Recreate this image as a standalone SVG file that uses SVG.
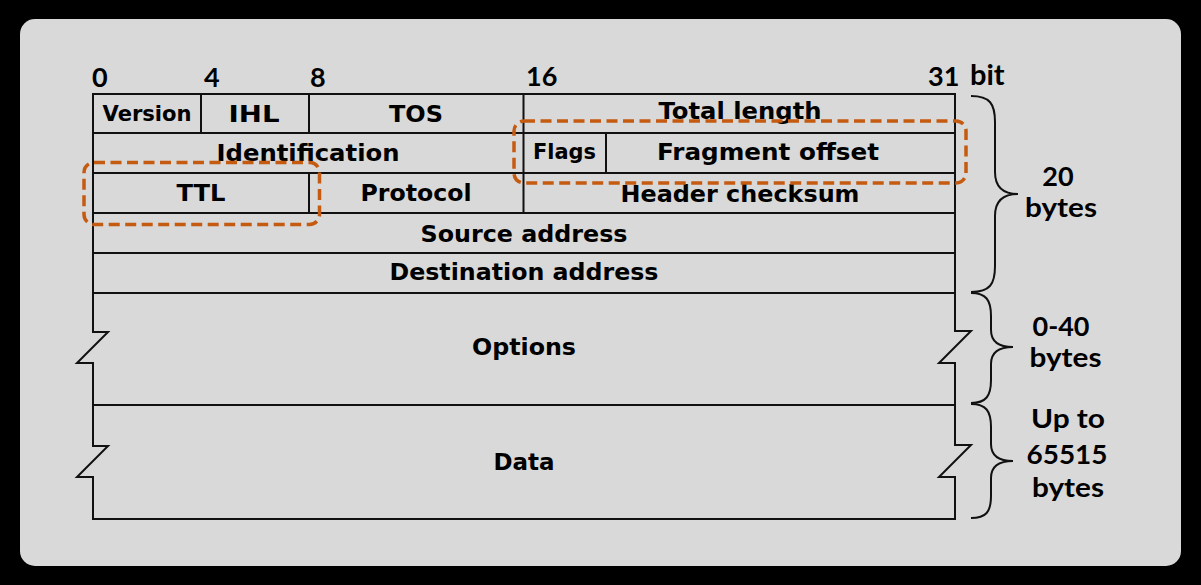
<svg xmlns="http://www.w3.org/2000/svg" width="1201" height="585" viewBox="0 0 1201 585">
  <defs>
    <style>
      .grid { fill: none; stroke: #111; stroke-width: 2; stroke-linejoin: miter; }
      .brace { fill: none; stroke: #111; stroke-width: 2; }
      .hl { fill: none; stroke: #C55A11; stroke-width: 3.5; stroke-dasharray: 11 5.5; }
      .f { font-family: "DejaVu Sans", Verdana, sans-serif; font-weight: bold; font-size: 23px; fill: #000; text-anchor: middle; }
      .fs { font-size: 20.5px; }
      .bit { font-family: Lato, "Liberation Sans", sans-serif; font-weight: bold; font-size: 27px; fill: #000; }
      .side { font-family: Lato, "Liberation Sans", sans-serif; font-weight: bold; font-size: 27px; fill: #000; text-anchor: middle; }
    </style>
  </defs>

  <!-- page background and panel -->
  <rect x="0" y="0" width="1201" height="585" fill="#000"/>
  <rect x="20" y="19" width="1161" height="547" rx="15" fill="#d9d9d9"/>

  <!-- bit position scale -->
  <g id="bit-scale">
    <text class="bit" x="92" y="87">0</text>
    <text class="bit" x="204" y="87">4</text>
    <text class="bit" x="310" y="87">8</text>
    <text class="bit" x="526" y="86">16</text>
    <text class="bit" x="928" y="86">31</text>
    <text class="bit" x="970" y="85" style="font-size:29px">bit</text>
  </g>

  <!-- header grid -->
  <g id="connectors">
    <!-- outline with torn edges for the variable-length parts -->
    <path class="grid" d="M93,94 H955 V331 H971 L939,363 H955 V445 H971 L939,477 H955 V519 H93 V477 H77 L108,446 H93 V363 H77 L108,332 H93 Z"/>
    <!-- row separators -->
    <path class="grid" d="M93,133 H955 M93,173 H955 M93,213 H955 M93,253 H955 M93,293 H955 M93,405 H955"/>
    <!-- column separators -->
    <path class="grid" d="M201,94 V133 M309,94 V133 M309,173 V213 M523.5,94 V213 M606,133 V173"/>
  </g>

  <g id="field-version"><text class="f fs" x="147" y="121" textLength="89" lengthAdjust="spacingAndGlyphs">Version</text></g>
  <g id="field-ihl"><text class="f" x="254" y="122" textLength="51" lengthAdjust="spacingAndGlyphs">IHL</text></g>
  <g id="field-tos"><text class="f" x="416" y="122" textLength="54" lengthAdjust="spacingAndGlyphs">TOS</text></g>
  <g id="field-total-length"><text class="f" x="740" y="119" textLength="163" lengthAdjust="spacingAndGlyphs">Total length</text></g>
  <g id="field-identification"><text class="f" x="308" y="161" textLength="183" lengthAdjust="spacingAndGlyphs">Identification</text></g>
  <g id="field-flags"><text class="f fs" x="564.5" y="159" textLength="63" lengthAdjust="spacingAndGlyphs">Flags</text></g>
  <g id="field-fragment-offset"><text class="f" x="768" y="160" textLength="222" lengthAdjust="spacingAndGlyphs">Fragment offset</text></g>
  <g id="field-ttl"><text class="f" x="201" y="201" textLength="49" lengthAdjust="spacingAndGlyphs">TTL</text></g>
  <g id="field-protocol"><text class="f" x="416" y="201" textLength="111" lengthAdjust="spacingAndGlyphs">Protocol</text></g>
  <g id="field-header-checksum"><text class="f" x="740" y="202" textLength="239" lengthAdjust="spacingAndGlyphs">Header checksum</text></g>
  <g id="field-source"><text class="f" x="524" y="241.5" textLength="207" lengthAdjust="spacingAndGlyphs">Source address</text></g>
  <g id="field-destination"><text class="f" x="524" y="280" textLength="269" lengthAdjust="spacingAndGlyphs">Destination address</text></g>
  <g id="field-options"><text class="f" x="524" y="355" textLength="104" lengthAdjust="spacingAndGlyphs">Options</text></g>
  <g id="field-data"><text class="f" x="524" y="470" textLength="61" lengthAdjust="spacingAndGlyphs">Data</text></g>

  <!-- highlighted fields -->
  <g id="highlight-flags"><rect class="hl" x="514" y="121" width="452" height="62" rx="10"/></g>
  <g id="highlight-ttl"><rect class="hl" x="84" y="162.5" width="235.5" height="62" rx="10"/></g>

  <!-- size braces -->
  <g id="brace-header">
    <path class="brace" d="M971,96 C990,96 995,104 995,122 L995,172 C995,188 1004,194 1018,194 C1004,194 995,200 995,216 L995,266 C995,284 990,292 971,292"/>
    <text class="side" x="1058" y="186">20</text>
    <text class="side" x="1061" y="217" textLength="72" lengthAdjust="spacingAndGlyphs">bytes</text>
  </g>
  <g id="brace-options">
    <path class="brace" d="M971,293 C986,293 991,300 991,316 L991,330 C991,342 999,347 1013,347 C999,347 991,352 991,364 L991,380 C991,396 986,403 971,403"/>
    <text class="side" x="1061" y="336">0-40</text>
    <text class="side" x="1065.5" y="367" textLength="72" lengthAdjust="spacingAndGlyphs">bytes</text>
  </g>
  <g id="brace-data">
    <path class="brace" d="M971,404 C986,404 991,411 991,427 L991,444 C991,456 999,461 1013,461 C999,461 991,466 991,478 L991,496 C991,512 986,518 971,518"/>
    <text class="side" x="1068" y="428" textLength="74" lengthAdjust="spacingAndGlyphs">Up to</text>
    <text class="side" x="1067" y="464" textLength="81" lengthAdjust="spacingAndGlyphs">65515</text>
    <text class="side" x="1068" y="497" textLength="72" lengthAdjust="spacingAndGlyphs">bytes</text>
  </g>
</svg>
